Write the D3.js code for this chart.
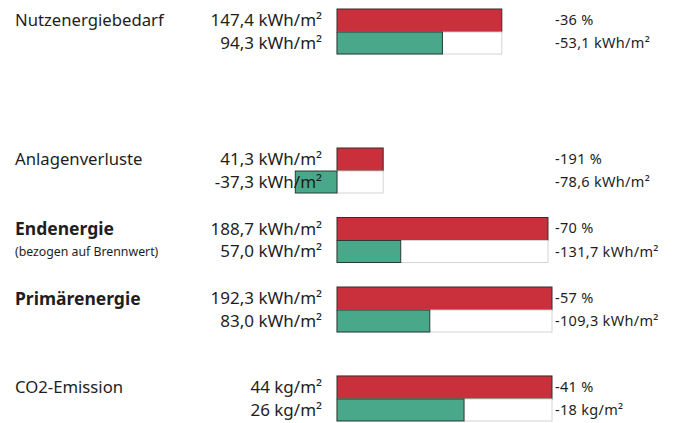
<!DOCTYPE html>
<html>
<head>
<meta charset="utf-8">
<script src="https://cdn.jsdelivr.net/npm/d3@7"></script>
<style>
  body { margin: 0; background: #fff; }
  text { font-family: "Noto Sans", sans-serif; fill: #1e1e1e; }
</style>
</head>
<body>
<div id="chart"></div>
<script>
// Kategorien
const categories = ["Nutzenergiebedarf", "Anlagenverluste", "Endenergie", "Primärenergie", "CO2-Emission"];
const subtitles = ["", "", "(bezogen auf Brennwert)", "", ""];
const boldCategory = [false, false, true, true, false];
const units = ["kWh/m²", "kWh/m²", "kWh/m²", "kWh/m²", "kg/m²"];

// Werte: Bestand (rot) und Variante (grün)
const refValues = [147.4, 41.3, 188.7, 192.3, 44];
const varValues = [94.3, -37.3, 57.0, 83.0, 26];
const valueLabelsRef = ["147,4", "41,3", "188,7", "192,3", "44"];
const valueLabelsVar = ["94,3", "-37,3", "57,0", "83,0", "26"];

// Einsparung
const percentLabels = ["-36 %", "-191 %", "-70 %", "-57 %", "-41 %"];
const diffLabels = ["-53,1 kWh/m²", "-78,6 kWh/m²", "-131,7 kWh/m²", "-109,3 kWh/m²", "-18 kg/m²"];

const data = categories.map((c, i) => ({
  name: c, sub: subtitles[i], bold: boldCategory[i], unit: units[i],
  ref: refValues[i], val: varValues[i],
  refLabel: valueLabelsRef[i], valLabel: valueLabelsVar[i],
  pct: percentLabels[i], diff: diffLabels[i], i
}));

const width = 673;
const height = 423;
const barX = 337;
const barW = 215;
const barH1 = 23;
const barH2 = 22;

// Zeilen-Raster (Lücken zwischen Gruppen)
const slot = [0, 2, 3, 4, 5.28];

const svg = d3.create("svg")
  .attr("width", width)
  .attr("height", height)
  .attr("viewBox", [0, 0, width, height]);

d3.select("#chart").append(() => svg.node());

// Energie-Skala gemeinsam, CO2 eigene Skala
const energyMax = d3.max(refValues.slice(0, 4));
const xE = d3.scaleLinear().domain([0, energyMax]).range([barX, barX + barW]);
const xC = d3.scaleLinear().domain([0, refValues[4]]).range([barX, barX + barW]);
const xFor = d => d.unit === "kg/m²" ? xC : xE;

const y = d3.scaleLinear().domain([0, 4]).range([9, 287]);

const g = svg.selectAll("g.row")
  .data(data)
  .join("g")
  .attr("class", "row")
  .attr("transform", d => `translate(0,${y(slot[d.i])})`);

// rote Balken
g.append("rect")
  .attr("x", d => xFor(d)(0))
  .attr("y", 0)
  .attr("width", d => xFor(d)(d.ref) - xFor(d)(0))
  .attr("height", barH1)
  .attr("fill", "#c9303c")
  .attr("stroke", "#3a2a2a")
  .attr("stroke-width", 1);

// weißer Hintergrund
g.append("rect")
  .attr("x", d => xFor(d)(0))
  .attr("y", barH1)
  .attr("width", d => xFor(d)(d.ref) - xFor(d)(0))
  .attr("height", barH2)
  .attr("fill", "#fff")
  .attr("stroke", "#d4d4d4")
  .attr("stroke-width", 1);

// grüne Balken
g.append("rect")
  .attr("x", d => xFor(d)(Math.min(0, d.val)))
  .attr("y", barH1)
  .attr("width", d => Math.abs(xFor(d)(d.val) - xFor(d)(0)))
  .attr("height", barH2)
  .attr("fill", "#4aa88a")
  .attr("stroke", "#2a3a33")
  .attr("stroke-width", 1);

// Kategorie
g.append("text")
  .attr("x", 15)
  .attr("y", barH1 / 2)
  .attr("dy", "0.35em")
  .style("font-size", d => d.bold ? "17.5px" : "16.7px")
  .style("font-weight", d => d.bold ? "bold" : "normal")
  .text(d => d.name);

g.filter(d => d.sub).append("text")
  .attr("x", 15)
  .attr("y", barH1 + barH2 / 2)
  .attr("dy", "0.35em")
  .style("font-size", "12.3px")
  .text(d => d.sub);

// Werte
g.append("text")
  .attr("x", 322)
  .attr("y", barH1 / 2)
  .attr("dy", "0.35em")
  .attr("text-anchor", "end")
  .style("font-size", "17px")
  .text(d => `${d.refLabel} ${d.unit}`);

g.append("text")
  .attr("x", 322)
  .attr("y", barH1 + barH2 / 2)
  .attr("dy", "0.35em")
  .attr("text-anchor", "end")
  .style("font-size", "17px")
  .text(d => `${d.valLabel} ${d.unit}`);

// Einsparung rechts
g.append("text")
  .attr("x", 555)
  .attr("y", barH1 / 2 - 1)
  .attr("dy", "0.35em")
  .style("font-size", "14.5px")
  .style("letter-spacing", "0.3px")
  .text(d => d.pct);

g.append("text")
  .attr("x", 555)
  .attr("y", barH1 + barH2 / 2)
  .attr("dy", "0.35em")
  .style("font-size", "14.5px")
  .style("letter-spacing", "0.3px")
  .text(d => d.diff);
</script>
</body>
</html>
